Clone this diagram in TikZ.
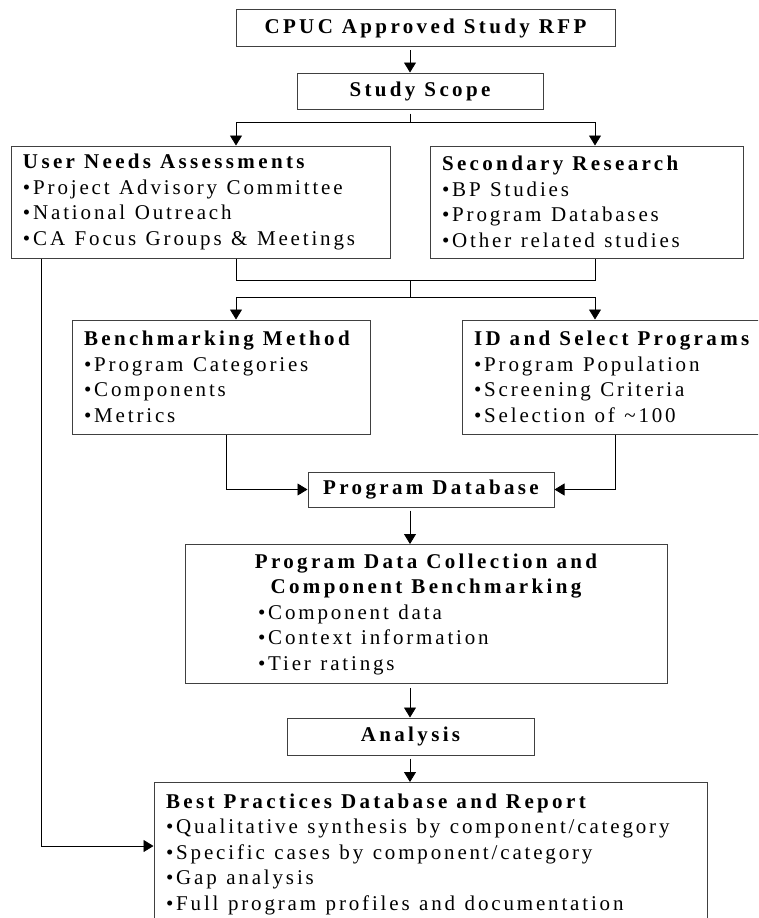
\documentclass[tikz,border=0pt]{standalone}
\usepackage{fontspec}
\setmainfont{Liberation Serif}[LetterSpace=13.5]
\newfontfamily\headfamily{Liberation Serif Bold}[LetterSpace=16]
\DeclareRobustCommand\headfont{\headfamily\spaceskip 9pt\relax}
\DeclareRobustCommand\bodyfont{\fontsize{21}{25.5}\selectfont\spaceskip 9.5pt\relax}
\usetikzlibrary{arrows.meta,positioning,calc}

\tikzset{
  stage/.style={draw=black!75, line width=1pt, inner ysep=0pt, align=flush left,
    font=\bodyfont},
  head/.style={draw=black!75, line width=1pt, inner sep=0pt, align=center,
    font=\bodyfont\headfont},
  link/.style={line width=0.8pt},
  arr/.style={link, -{Triangle[width=12pt,length=10pt]}},
}

\begin{document}
\begin{tikzpicture}[x=1pt, y=-1pt]
\path[use as bounding box, clip] (0,0) rectangle (758,918);

% top of the chain
\node[head, minimum width=379pt, minimum height=37pt] (cpuc) at (425.5,28) {CPUC Approved Study RFP};
\node[head, minimum width=246pt, minimum height=36pt] (scope) at (420,91) {Study Scope};

% needs and research
\node[stage, text width=355pt, inner xsep=12pt, minimum height=112pt] (user) at (200.5,202)
  {{\headfont User Needs Assessments}\\•Project Advisory Committee\\•National Outreach\\•CA Focus Groups \& Meetings};
\node[stage, text width=289pt, inner xsep=12pt, minimum height=112pt] (second) at (586.5,202)
  {{\headfont Secondary Research}\\•BP Studies\\•Program Databases\\•Other related studies};

% method and selection
\node[stage, text width=274pt, inner xsep=12pt, minimum height=114pt] (bench) at (221,377)
  {{\headfont Benchmarking Method}\\•Program Categories\\•Components\\•Metrics};
\node[stage, text width=304pt, inner xsep=12pt, minimum height=114pt] (ids) at (626,377)
  {{\headfont ID and Select Programs}\\•Program Population\\•Screening Criteria\\•Selection of \textasciitilde 100};

\node[head, minimum width=246pt, minimum height=35pt] (pdb) at (431,489.5) {Program Database};

\node[stage, text width=482pt, inner xsep=0pt, minimum height=139pt] (pdc) at (426,614)
  {\makebox[482pt]{\headfont Program Data Collection and}\\
   \makebox[482pt]{\headfont Component Benchmarking}\\
   \hspace*{73pt}•Component data\\
   \hspace*{73pt}•Context information\\
   \hspace*{73pt}•Tier ratings};

\node[head, minimum width=247pt, minimum height=37pt] (analysis) at (410.5,736.5) {Analysis};

\node[stage, text width=529pt, inner xsep=12pt, inner ysep=11pt, anchor=north] (best) at (430.5,782)
  {{\headfont Best Practices Database and Report}\\•Qualitative synthesis by component/category\\
   •Specific cases by component/category\\•Gap analysis\\•Full program profiles and documentation};

% routing points
\coordinate (spine) at (410,0);
\coordinate (colL) at (236,0);
\coordinate (colR) at (595,0);
\coordinate (split) at (410,122);
\coordinate (merge) at (410,280);
\coordinate (fan) at (410,297);
\coordinate (benchout) at (226,0);
\coordinate (idsout) at (615,0);
\coordinate (loop) at (41,846);

\path[arr] ([yshift=-3pt]cpuc.south -| spine) edge (scope.north -| spine);
\draw[link] ([yshift=-4pt]scope.south -| spine) -- (split);
\draw[link] (split -| colL) -- (split -| colR);
\path[arr] (split -| colL) edge (user.north -| colL)
           (split -| colR) edge (second.north -| colR);

\draw[link] (user.south -| colL) -- (merge -| colL) -- (merge -| colR) -- (second.south -| colR);
\draw[link] (merge) -- (fan);
\draw[link] (fan -| colL) -- (fan -| colR);
\path[arr] (fan -| colL) edge (bench.north -| colL)
           (fan -| colR) edge (ids.north -| colR);

\draw[arr] (bench.south -| benchout) |- (pdb.west);
\draw[arr] (ids.south -| idsout) |- (pdb.east);

\path[arr] ([yshift=-3pt]pdb.south -| spine) edge (pdc.north -| spine);
\path[arr] ([yshift=-4pt]pdc.south -| spine) edge (analysis.north -| spine);
\path[arr] ([yshift=-3pt]analysis.south -| spine) edge (best.north -| spine);

\draw[arr] (user.south -| loop) |- (best.west |- loop);
\end{tikzpicture}
\end{document}
